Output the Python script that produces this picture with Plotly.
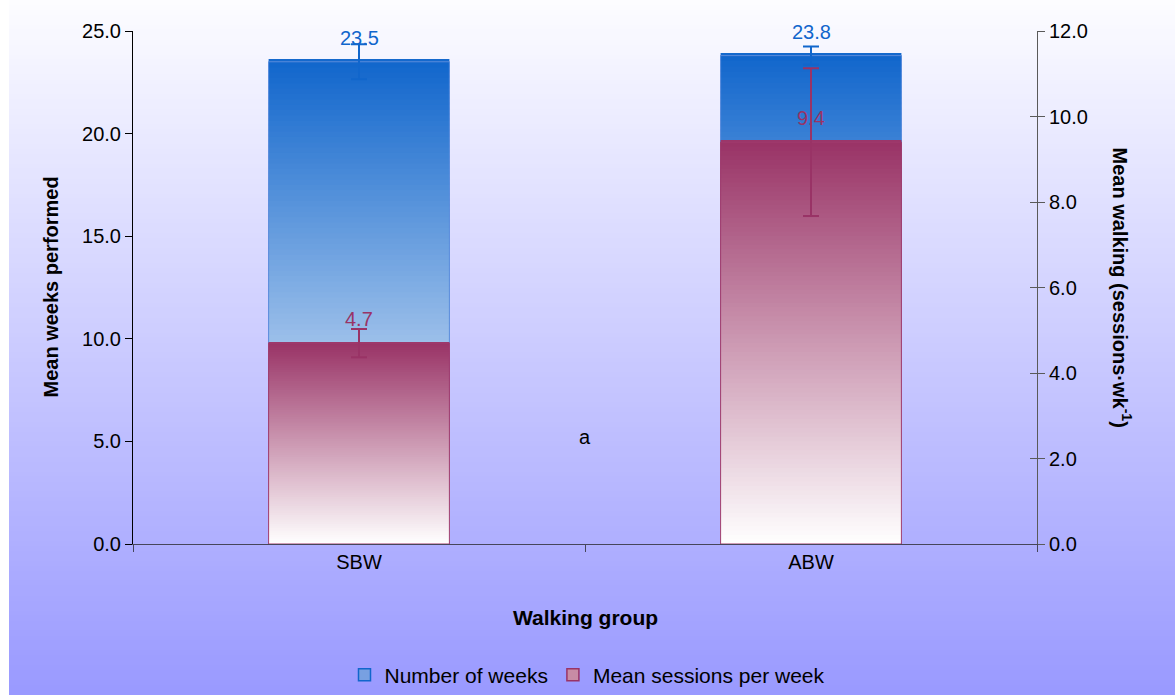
import plotly.graph_objects as go

# ---- data ----
categories = ["SBW", "ABW"]
weeks = [23.5, 23.8]            # Number of weeks (left axis)
weeks_err = [0.85, 0.45]
sessions = [4.7, 9.4]           # Mean sessions per week (right axis)
sessions_err = [0.33, 1.73]
weeks_labels = ["23.5", "23.8"]
sessions_labels = ["4.7", "9.4"]
left_ticks = [0, 5, 10, 15, 20, 25]
right_ticks = [0, 2, 4, 6, 8, 10, 12]

BLUE = (17, 102, 204)
RED = (153, 51, 102)
FONT = "Liberation Sans, Arial, sans-serif"
FS_TICK = 20
FS_TITLE = 21
FS_LEG = 21
N = 90
BAR_W = 0.4


def mix(c, t):
    r = round(255 + (c[0] - 255) * t)
    g = round(255 + (c[1] - 255) * t)
    b = round(255 + (c[2] - 255) * t)
    return f"rgb({r},{g},{b})"


def gradient_trace(vals, col, yaxis):
    xs, bases, hs, cols = [], [], [], []
    for cat, v in zip(categories, vals):
        step = v / N
        for k in range(N):
            xs.append(cat)
            bases.append(step * k)
            hs.append(step * 2.5 if k < N - 1 else step)
            cols.append(mix(col, (k + 0.5) / N))
    return go.Bar(x=xs, y=hs, base=bases, width=BAR_W, yaxis=yaxis,
                  marker=dict(color=cols, line=dict(width=0)),
                  showlegend=False, hoverinfo="skip")


fig = go.Figure()
fig.add_trace(gradient_trace(weeks, BLUE, "y"))
fig.add_trace(go.Bar(x=categories, y=weeks, width=BAR_W, yaxis="y",
                     marker=dict(color="rgba(0,0,0,0)",
                                 line=dict(color="rgb(90,140,220)", width=1)),
                     error_y=dict(type="data", array=weeks_err, color=f"rgb{BLUE}",
                                  thickness=2, width=8),
                     showlegend=False, hoverinfo="skip"))
fig.add_trace(gradient_trace(sessions, RED, "y2"))
fig.add_trace(go.Bar(x=categories, y=sessions, width=BAR_W, yaxis="y2",
                     marker=dict(color="rgba(0,0,0,0)",
                                 line=dict(color="rgb(160,60,110)", width=1)),
                     error_y=dict(type="data", array=sessions_err, color=f"rgb{RED}",
                                  thickness=2, width=8),
                     showlegend=False, hoverinfo="skip"))
# empty trace so the inner-tick companion of the right axis is drawn
fig.add_trace(go.Scatter(x=[None], y=[None], yaxis="y3", showlegend=False, hoverinfo="skip"))

# legend-only entries
fig.add_trace(go.Bar(x=[None], y=[None], name="Number of weeks",
                     marker=dict(color="rgb(120,160,225)", line=dict(color="rgb(17,102,204)", width=1.5))))
fig.add_trace(go.Bar(x=[None], y=[None], name="Mean sessions per week", yaxis="y2",
                     marker=dict(color="rgb(200,140,165)", line=dict(color="rgb(153,51,102)", width=1.5))))

# background gradient (figure-wide), drawn as thin stripes in paper coords
L, R, T, B = 133, 138, 31, 151
W, H = 1175, 695
pw, ph = W - L - R, H - T - B
shapes = []
STRIPES = 140
top_c = (253, 253, 255)
bot_c = (153, 153, 255)
for i in range(STRIPES):
    py0 = H * i / STRIPES
    py1 = H * (i + 1) / STRIPES + 1
    t = (i + 0.5) / STRIPES
    c = tuple(round(top_c[j] + (bot_c[j] - top_c[j]) * t) for j in range(3))
    shapes.append(dict(type="rect", xref="paper", yref="paper", layer="below",
                       x0=(9 - L) / pw, x1=(W + 2 - L) / pw,
                       y0=(H - B - py1) / ph, y1=(H - B - py0) / ph,
                       line=dict(width=0), fillcolor=f"rgb{c}"))

annotations = []
for cat, v, lab in zip(categories, weeks, weeks_labels):
    annotations.append(dict(x=cat, y=v, xref="x", yref="y", text=lab, showarrow=False,
                            yshift=24, font=dict(family=FONT, size=FS_TICK, color=f"rgb{BLUE}")))
for cat, v, lab in zip(categories, sessions, sessions_labels):
    annotations.append(dict(x=cat, y=v, xref="x", yref="y2", text=lab, showarrow=False,
                            yshift=24, font=dict(family=FONT, size=FS_TICK, color=f"rgb{RED}")))
annotations.append(dict(x=0.5, y=5.2, xref="x", yref="y", text="a", showarrow=False,
                        font=dict(family=FONT, size=FS_TICK, color="black")))
annotations.append(dict(x=(50 - L) / pw, y=0.5, xref="paper", yref="paper", textangle=-90,
                        xanchor="center", yanchor="middle",
                        text="<b>Mean weeks performed</b>", showarrow=False,
                        font=dict(family=FONT, size=FS_TITLE - 1, color="black")))
annotations.append(dict(x=(1122 - L) / pw, y=0.5, xref="paper", yref="paper", textangle=90,
                        xanchor="center", yanchor="middle",
                        text="<b>Mean walking (sessions·wk<sup>-1</sup>)</b>", showarrow=False,
                        font=dict(family=FONT, size=FS_TITLE - 1, color="black")))
annotations.append(dict(x=0.5, y=(H - B - 617) / ph, xref="paper", yref="paper",
                        xanchor="center", yanchor="middle",
                        text="<b>Walking group</b>", showarrow=False,
                        font=dict(family=FONT, size=FS_TITLE, color="black")))

fig.update_layout(
    width=W, height=H,
    margin=dict(l=L, r=R, t=T, b=B, pad=0, autoexpand=False),
    paper_bgcolor="white", plot_bgcolor="rgba(0,0,0,0)",
    barmode="overlay",
    font=dict(family=FONT, size=FS_TICK, color="black"),
    shapes=shapes, annotations=annotations,
    xaxis=dict(categoryorder="array", categoryarray=categories, tickson="boundaries",
               ticks="outside", ticklen=7, tickcolor="rgb(70,70,90)",
               showline=True, linecolor="rgb(70,70,90)", linewidth=1,
               showgrid=False, zeroline=False, range=[-0.5, 1.5], automargin=False,
               tickfont=dict(size=FS_TICK)),
    yaxis=dict(range=[0, 25], tickvals=left_ticks, tickformat=".1f",
               ticks="outside", ticklen=7, tickcolor="black",
               showline=True, linecolor="black", linewidth=1,
               showgrid=False, zeroline=False, automargin=False),
    yaxis2=dict(range=[0, 12], tickvals=right_ticks, tickformat=".1f", overlaying="y",
                side="right", ticks="outside", ticklen=7, tickcolor="rgb(90,90,90)",
                showline=True, linecolor="rgb(90,90,90)", linewidth=1,
                showgrid=False, zeroline=False, automargin=False),
    yaxis3=dict(range=[0, 12], tickvals=right_ticks, overlaying="y", side="right",
                ticks="inside", ticklen=7, tickcolor="rgb(90,90,90)",
                showticklabels=False, showline=False, showgrid=False, zeroline=False,
                automargin=False),
    legend=dict(orientation="h", x=0.5, xanchor="center", xref="container",
                y=(H - 675) / H, yref="container",
                yanchor="middle", bgcolor="rgba(0,0,0,0)",
                font=dict(family=FONT, size=FS_LEG, color="black"),
                itemwidth=30, tracegroupgap=0),
)

fig.write_html("out.html", config={"displayModeBar": False},
               post_script="document.body.style.margin='0';document.body.style.overflow='hidden';")
